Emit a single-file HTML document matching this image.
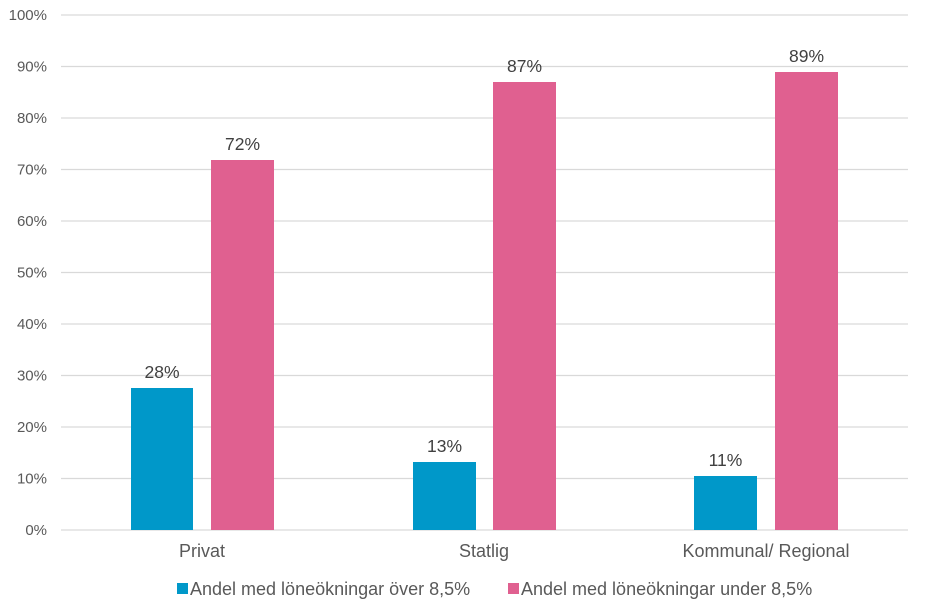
<!DOCTYPE html>
<html><head><meta charset="utf-8"><style>
html,body{margin:0;padding:0;background:#fff;}
svg{display:block;font-family:"Liberation Sans",Arial,sans-serif;}
</style></head><body>
<svg width="945" height="616" viewBox="0 0 945 616" xmlns="http://www.w3.org/2000/svg">
<g stroke="#d9d9d9" stroke-width="1.2">
<line x1="61" x2="908" y1="15" y2="15"/>
<line x1="61" x2="908" y1="66.5" y2="66.5"/>
<line x1="61" x2="908" y1="118" y2="118"/>
<line x1="61" x2="908" y1="169.5" y2="169.5"/>
<line x1="61" x2="908" y1="221" y2="221"/>
<line x1="61" x2="908" y1="272.5" y2="272.5"/>
<line x1="61" x2="908" y1="324" y2="324"/>
<line x1="61" x2="908" y1="375.5" y2="375.5"/>
<line x1="61" x2="908" y1="427" y2="427"/>
<line x1="61" x2="908" y1="478.5" y2="478.5"/>
<line x1="61" x2="908" y1="530" y2="530"/>
</g>
<g font-size="15" fill="#595959" text-anchor="end">
<text x="47" y="20">100%</text>
<text x="47" y="71.5">90%</text>
<text x="47" y="123">80%</text>
<text x="47" y="174.5">70%</text>
<text x="47" y="226">60%</text>
<text x="47" y="277.5">50%</text>
<text x="47" y="329">40%</text>
<text x="47" y="380.5">30%</text>
<text x="47" y="432">20%</text>
<text x="47" y="483.5">10%</text>
<text x="47" y="535">0%</text>
</g>
<g fill="#0098c9">
<rect x="131" y="388" width="62" height="142"/>
<rect x="413" y="462" width="63" height="68"/>
<rect x="694" y="476" width="63" height="54"/>
</g>
<g fill="#e06090">
<rect x="211" y="160" width="63" height="370"/>
<rect x="493" y="82" width="63" height="448"/>
<rect x="775" y="72" width="63" height="458"/>
</g>
<g font-size="17.5" fill="#404040" text-anchor="middle">
<text x="162" y="378">28%</text>
<text x="242.5" y="150">72%</text>
<text x="444.5" y="452">13%</text>
<text x="524.5" y="72">87%</text>
<text x="725.5" y="466">11%</text>
<text x="806.5" y="62">89%</text>
</g>
<g font-size="18" fill="#595959" text-anchor="middle">
<text x="202" y="557">Privat</text>
<text x="484" y="557">Statlig</text>
<text x="766" y="557">Kommunal/ Regional</text>
</g>
<rect x="177" y="583" width="11" height="11" fill="#0098c9"/>
<text x="190" y="595" font-size="18" fill="#595959">Andel med löneökningar över 8,5%</text>
<rect x="508" y="583" width="11" height="11" fill="#e06090"/>
<text x="521" y="595" font-size="18" fill="#595959">Andel med löneökningar under 8,5%</text>
</svg>
</body></html>
